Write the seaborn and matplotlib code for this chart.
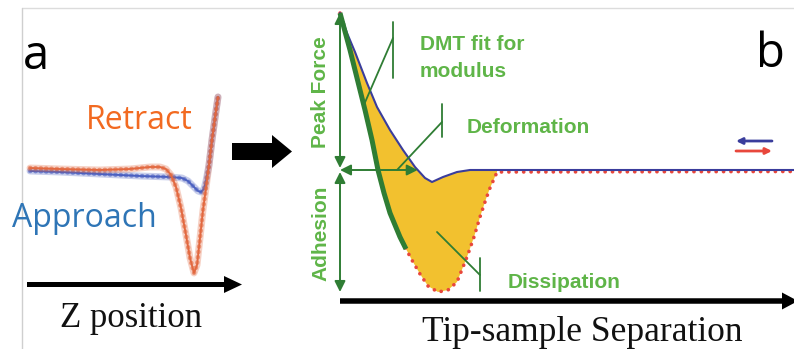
import numpy as np
import matplotlib
matplotlib.use("Agg")
import matplotlib.pyplot as plt
from matplotlib.patches import FancyArrow
import seaborn as sns

# Panel a: cantilever deflection vs Z position (arbitrary units)
z_approach = [2, 32, 72, 112, 142, 154, 160, 166, 170, 173, 176, 178, 181, 184, 187, 190]
defl_approach = [119, 118, 116, 114, 113, 112, 109, 103, 99, 98, 101, 109, 125, 150, 172, 193]
z_retract = [2, 32, 72, 102, 122, 132, 138, 143, 148, 153, 158, 162, 166, 169, 172,
             175, 178, 181, 184, 187, 190]
defl_retract = [122, 121, 120, 121, 123, 123, 121, 115, 103, 82, 55, 32, 17, 25, 52,
                80, 102, 125, 150, 172, 193]

# Panel b: force vs tip-sample separation (arbitrary units)
sep_approach = [0, 7, 15, 27, 37, 50, 63, 75, 85, 92, 103, 117, 130, 454]
force_approach = [157, 137, 118, 87, 63, 40, 20, 3, -8, -12, -7, -2, 0, 0]
sep_retract = [0, 10, 18, 25, 32, 38, 44, 50, 60, 66, 73, 80, 88, 98, 108, 117, 127,
               134, 140, 146, 150, 154, 157, 454]
force_retract = [157, 120, 88, 60, 30, 0, -23, -43, -67, -79, -92, -104, -116, -122,
                 -120, -112, -87, -67, -47, -29, -18, -9, -2, -1.5]
dmt_fit_end = 66  # separation up to which the DMT fit is drawn

sns.set_style("white")
plt.rcParams["font.family"] = ["Liberation Sans", "DejaVu Sans"]

W, H = 794, 349
fig = plt.figure(figsize=(W / 100, H / 100), dpi=100)


def px_box(x0, y0, x1, y1):
    return [x0 / W, 1 - y1 / H, (x1 - x0) / W, (y1 - y0) / H]


# background layer in pixel units for frame, captions and connectors
bg = fig.add_axes([0, 0, 1, 1])
bg.set_xlim(0, W)
bg.set_ylim(H, 0)
bg.axis("off")

axa = fig.add_axes(px_box(0, 0, 300, H))
axa.set_xlim(-28, 272)
axa.set_ylim(-59, 290)
axa.axis("off")
axa.patch.set_alpha(0)

axb = fig.add_axes(px_box(300, 0, W, H))
axb.set_xlim(-40, 454)
axb.set_ylim(-179, 170)
axb.axis("off")
axb.patch.set_alpha(0)

TEXT_GREEN = "#5FB548"
LINE_GREEN = "#2F7D34"
YELLOW = "#F2C12F"
NAVY = "#3A3D9C"
RED = "#E8473C"
BLUE_A = "#4A5FC0"
ORANGE_A = "#E2683F"

# ---- frame ----
bg.plot([22, W], [8, 8], color="#DCDCDC", lw=1)
bg.plot([22, 22], [8, H], color="#CFCFCF", lw=1)

# ---- panel a ----
for z, d, c in [(z_approach, defl_approach, BLUE_A), (z_retract, defl_retract, ORANGE_A)]:
    sns.lineplot(x=z, y=d, ax=axa, color=c, lw=5, alpha=0.3, sort=False,
                 estimator=None, solid_capstyle="round")
    sns.lineplot(x=z, y=d, ax=axa, color=c, lw=3.2, alpha=0.6, sort=False,
                 estimator=None, linestyle=(0, (0.1, 1.1)), dash_capstyle="round")
    sns.lineplot(x=z, y=d, ax=axa, color=c, lw=1.3, sort=False, estimator=None)

bg.text(86, 129, "Retract", fontsize=23, color="#F26A21", family=["Open Sans"], va="baseline")
bg.text(12, 227, "Approach", fontsize=23, color="#2E75B6", family=["Open Sans"], va="baseline")
bg.text(23, 69, "a", fontsize=34, color="black", family=["Open Sans"], va="baseline")
bg.text(756, 67, "b", fontsize=34, color="black", family=["Open Sans"], va="baseline")

bg.add_patch(FancyArrow(27, 284.5, 215, 0, width=5, head_width=17, head_length=18,
                        length_includes_head=True, color="black", lw=0))
bg.text(131, 327, "Z position", fontsize=25, family=["Liberation Serif"],
        ha="center", va="baseline", color="#111111")

# block arrow between the panels
bg.add_patch(FancyArrow(232, 151.5, 60, 0, width=17, head_width=33, head_length=20,
                        length_includes_head=True, color="black", lw=0))

# ---- panel b ----
sa = np.array(sep_approach, dtype=float)
fa = np.array(force_approach, dtype=float)
sr = np.array(sep_retract, dtype=float)
fr = np.array(force_retract, dtype=float)

i_min = int(np.argmin(fr))
i_back = i_min + int(np.argmax(fr[i_min:] >= -2))
s_close = sr[i_back]
poly_x = np.concatenate([sa[sa < s_close], [s_close], sr[:i_back + 1][::-1]])
poly_y = np.concatenate([fa[sa < s_close], [np.interp(s_close, sa, fa)], fr[:i_back + 1][::-1]])
axb.fill(poly_x, poly_y, color=YELLOW, lw=0, zorder=1)

sns.lineplot(x=sr, y=fr, ax=axb, color=RED, lw=2.6, sort=False, estimator=None,
             linestyle=(0, (0.05, 2.0)), dash_capstyle="round", zorder=2)
sns.lineplot(x=sa, y=fa, ax=axb, color=NAVY, lw=1.5, sort=False, estimator=None, zorder=3)
fit = sr <= dmt_fit_end
sns.lineplot(x=sr[fit], y=fr[fit], ax=axb, color=LINE_GREEN, lw=3.6, sort=False,
             estimator=None, solid_capstyle="butt", zorder=4)

peak = fa.max()
adhesion = -fr.min()
i0 = int(np.argmax(fa <= 0))
deformation = np.interp(0, [fa[i0], fa[i0 - 1]], [sa[i0], sa[i0 - 1]])

arrow_kw = dict(arrowstyle="<|-|>", color=LINE_GREEN, lw=1.4, mutation_scale=16,
                shrinkA=0, shrinkB=0)
axb.annotate("", xy=(0, peak), xytext=(0, 2), arrowprops=arrow_kw, zorder=5)
axb.annotate("", xy=(0, -adhesion), xytext=(0, -2), arrowprops=arrow_kw, zorder=5)
axb.annotate("", xy=(deformation, 0), xytext=(0, 0), arrowprops=arrow_kw, zorder=5)

# leader lines for the labels
lead_kw = dict(color=LINE_GREEN, lw=1.3, zorder=5)
axb.plot([23, 53], [63, 132], **lead_kw)
axb.plot([53, 53], [148, 92], **lead_kw)
axb.plot([57, 102], [0, 48], **lead_kw)
axb.plot([102, 102], [66, 33], **lead_kw)
axb.plot([97, 140], [-62, -105], **lead_kw)
axb.plot([140, 140], [-88, -121], **lead_kw)

lab_kw = dict(fontsize=15, fontweight="bold", color=TEXT_GREEN)
bg.text(420, 50, "DMT fit for", va="baseline", **lab_kw)
bg.text(420, 77, "modulus", va="baseline", **lab_kw)
bg.text(467, 133, "Deformation", va="baseline", **lab_kw)
bg.text(508, 288, "Dissipation", va="baseline", **lab_kw)
bg.text(321, 92, "Peak Force", rotation=90, ha="center", va="center", **lab_kw)
bg.text(321, 233, "Adhesion", rotation=90, ha="center", va="center", **lab_kw)

# direction key
bg.annotate("", xy=(736, 141), xytext=(772, 141),
            arrowprops=dict(arrowstyle="-|>", color=NAVY, lw=2, mutation_scale=9,
                            shrinkA=0, shrinkB=0))
bg.annotate("", xy=(772, 151), xytext=(736, 151),
            arrowprops=dict(arrowstyle="-|>", color=RED, lw=2, mutation_scale=9,
                            shrinkA=0, shrinkB=0))

# separation axis
bg.add_patch(FancyArrow(340, 301, 458, 0, width=5.5, head_width=17, head_length=16,
                        length_includes_head=True, color="black", lw=0))
bg.text(582, 341, "Tip-sample Separation", fontsize=25.5, family=["Liberation Serif"],
        ha="center", va="baseline", color="#111111")

fig.savefig("out.png", dpi=100)
